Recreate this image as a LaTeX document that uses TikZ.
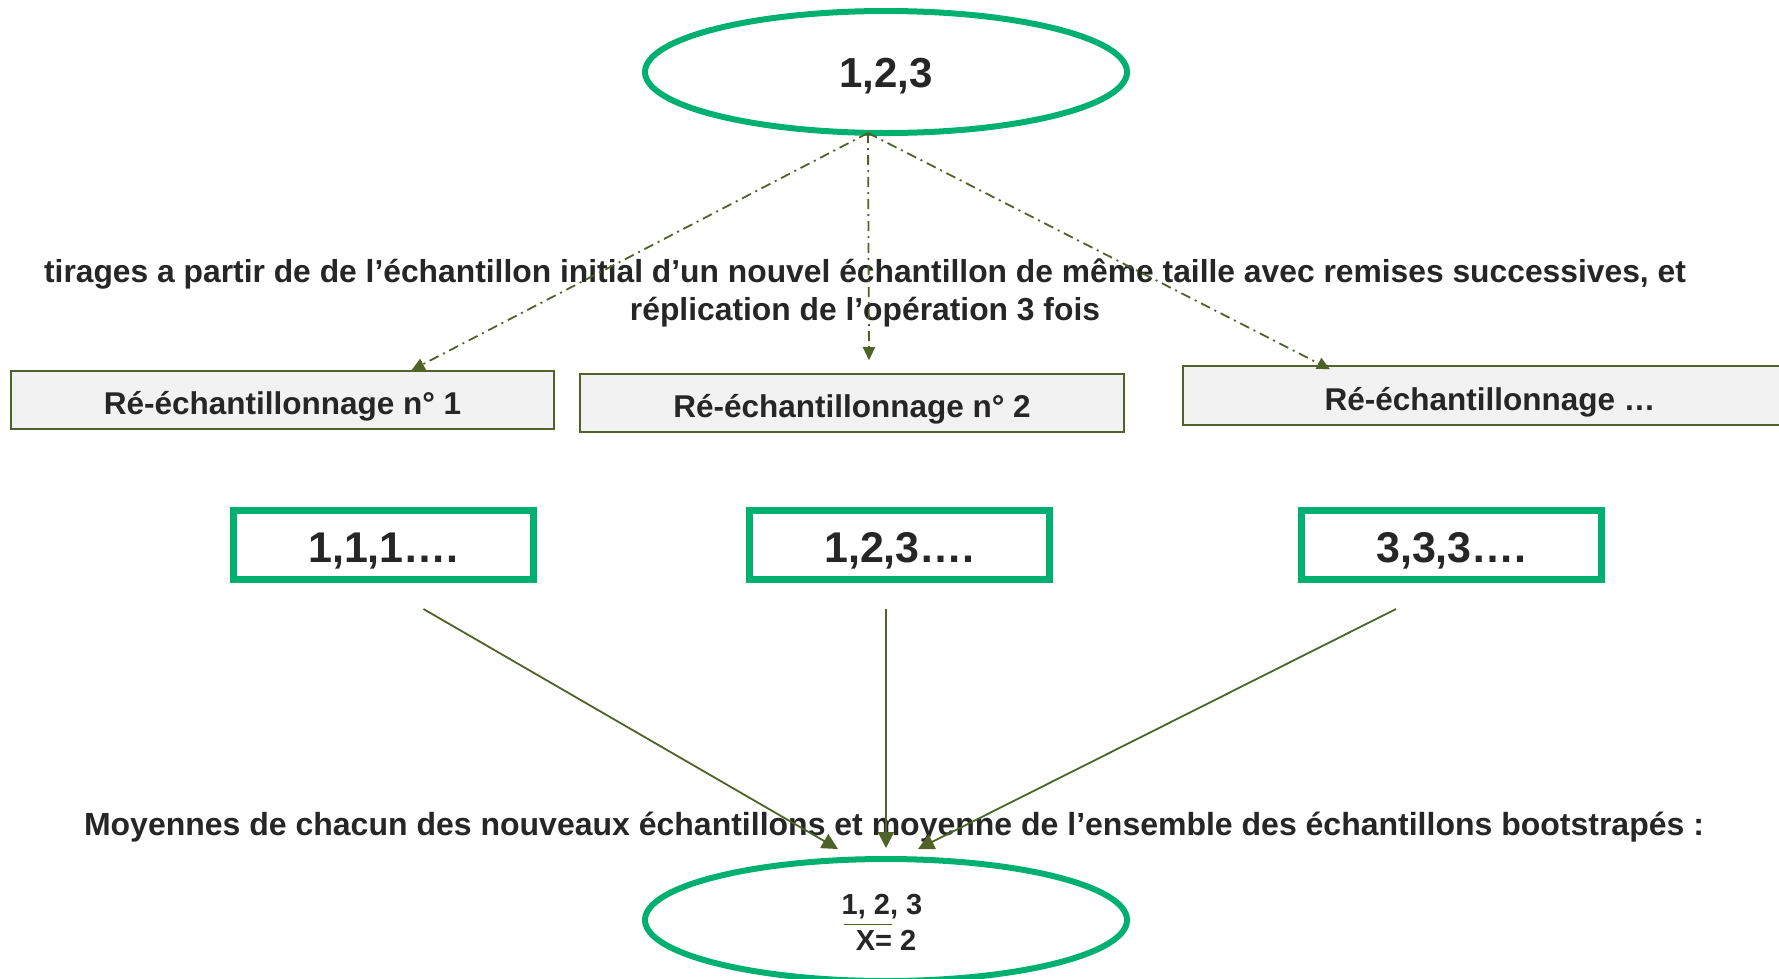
\documentclass[tikz,border=0pt]{standalone}
\usepackage{fontspec}
\setmainfont{Liberation Sans}
\usetikzlibrary{shapes.geometric,arrows.meta,calc}
\definecolor{grn}{RGB}{0,176,112}
\definecolor{olive}{RGB}{79,98,40}
\definecolor{txt}{RGB}{38,38,38}
\definecolor{boxfill}{RGB}{242,242,242}
\tikzset{
  oval/.style={ellipse,draw=grn,line width=6pt,minimum width=482pt,minimum height=122pt,inner sep=0pt,text=txt},
  graybox/.style={draw=olive,fill=boxfill,line width=1.6pt,inner sep=0pt,text=txt,text height=29.6pt,text depth=0pt,font=\fontsize{31.5}{36}\selectfont\bfseries},
  greenbox/.style={draw=grn,line width=7pt,minimum width=300pt,minimum height=69pt,inner sep=0pt,text=txt,text height=34.4pt,text depth=0pt,font=\fontsize{43}{50}\selectfont\bfseries},
  label/.style={text=txt,inner sep=0pt,align=center},
  dasharrow/.style={draw=olive,line width=1.8pt,dash pattern=on 10pt off 5pt on 2pt off 5pt,-{Triangle[length=13pt,width=12pt]}},
  solidarrow/.style={draw=olive,line width=1.8pt,-{Triangle[length=16pt,width=16pt]}}
}
\begin{document}
\begin{tikzpicture}[x=1pt,y=-1pt]
\useasboundingbox (0,0) rectangle (1779,978);
\clip (0,0) rectangle (1779,978);
\node[oval,text height=30.2pt,text depth=0pt,font=\fontsize{42}{48}\selectfont\bfseries] (top) at (886,72) {1,2,3};
\node[label,font=\fontsize{31.8}{38.6}\selectfont\bfseries] (t1) at (865,293) {tirages a partir de de l’échantillon initial d’un nouvel échantillon de même taille avec remises successives, et\\réplication de l’opération 3 fois};
\node[graybox,minimum width=543pt,minimum height=58pt] (b1) at (282.5,400) {Ré-échantillonnage n° 1};
\node[graybox,minimum width=544pt,minimum height=58pt] (b2) at (852,403) {Ré-échantillonnage n° 2};
\node[graybox,minimum width=614pt,minimum height=59pt] (b3) at (1490,395.5) {Ré-échantillonnage …};
\draw[dasharrow] ($(top.south)+(-18,-3)$) -- ($(b1.north)+(129,0)$);
\draw[dasharrow] ($(top.south)+(-18,-3)$) -- ($(b2.north)+(17,-13)$);
\draw[dasharrow] ($(top.south)+(-18,-3)$) -- ($(b3.north)+(-160,4)$);
\node[greenbox] (gA) at (383.5,545) {1,1,1….};
\node[greenbox] (gB) at (899.5,545) {1,2,3….};
\node[greenbox] (gC) at (1451.5,545) {3,3,3….};
\node[label,font=\fontsize{32}{38}\selectfont\bfseries] (t2) at (894,827) {Moyennes de chacun des nouveaux échantillons et moyenne de l’ensemble des échantillons bootstrapés :};
\node[oval] (bot) at (886,920) {};
\node[label,font=\fontsize{29}{34}\selectfont\bfseries] (m1) at (882,907) {1, 2, 3};
\node[label,font=\fontsize{29}{34}\selectfont\bfseries] (m2) at (886,940) {X= 2};
\draw[olive,line width=1.5pt] ($(m1.south west)+(2,5)$) coordinate (bar1) -- ++(48,0) coordinate (bar2);
\draw[solidarrow] ($(gA.south)+(40,26)$) -- ($(bot.north)+(-48,-7)$);
\draw[solidarrow] ($(gB.south)+(-13.5,26)$) -- ($(bot.north)+(0,-8)$);
\draw[solidarrow] ($(gC.south)+(-55.5,26)$) -- ($(bot.north)+(32,-7)$);
\end{tikzpicture}
\end{document}
